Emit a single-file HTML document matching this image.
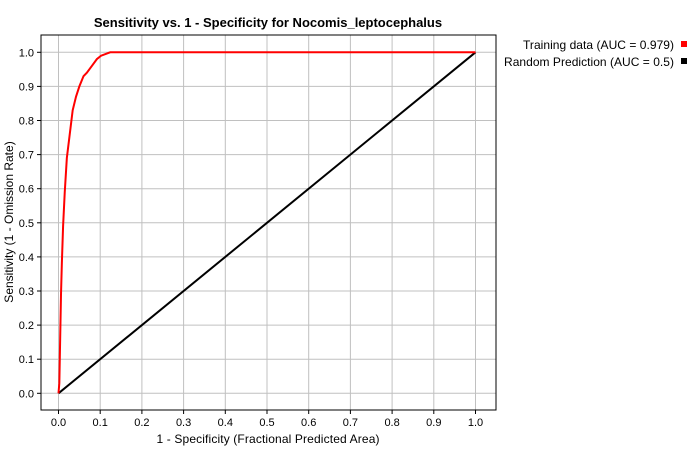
<!DOCTYPE html>
<html><head><meta charset="utf-8"><style>
body{margin:0;background:#fff;font-family:"Liberation Sans",sans-serif}
</style></head><body>
<svg width="700" height="450" xmlns="http://www.w3.org/2000/svg" font-family="Liberation Sans, sans-serif">
<rect width="700" height="450" fill="#fff"/>
<text x="268" y="27" font-size="13" font-weight="bold" text-anchor="middle">Sensitivity vs. 1 - Specificity for Nocomis_leptocephalus</text>
<g id="grid"></g>
<rect x="41" y="35" width="455" height="375" fill="none" stroke="#000"/>
<g id="ticks" font-size="11"></g>
<g id="series"></g>
<text x="268" y="443" font-size="12" text-anchor="middle" textLength="223">1 - Specificity  (Fractional Predicted Area)</text>
<text transform="translate(13,222) rotate(-90)" font-size="12" text-anchor="middle">Sensitivity  (1 - Omission Rate)</text>
<g font-size="12">
<text x="523" y="49" textLength="151">Training data (AUC = 0.979)</text>
<rect x="681" y="41" width="6" height="6" fill="#f00"/>
<text x="504" y="66" textLength="170">Random Prediction (AUC = 0.5)</text>
<rect x="681" y="58" width="6" height="6" fill="#000"/>
</g>
</svg>
<script>
const ticks=[0,0.1,0.2,0.3,0.4,0.5,0.6,0.7,0.8,0.9,1.0];
const tickLabels=["0.0","0.1","0.2","0.3","0.4","0.5","0.6","0.7","0.8","0.9","1.0"];
const trainX=[0,0.002,0.004,0.006,0.008,0.011,0.015,0.02,0.027,0.034,0.042,0.05,0.06,0.068,0.08,0.092,0.102,0.124,1];
const trainY=[0,0.03,0.16,0.29,0.38,0.49,0.59,0.69,0.76,0.83,0.87,0.90,0.93,0.94,0.96,0.98,0.99,1.0,1.0];
const randX=[0,1], randY=[0,1];
const NS="http://www.w3.org/2000/svg";
const sx=v=>58.5+v*417, sy=v=>393.3-v*341;
const grid=document.getElementById('grid'),tk=document.getElementById('ticks'),ser=document.getElementById('series');
function mk(tag,at,p){const e=document.createElementNS(NS,tag);for(const k in at)e.setAttribute(k,at[k]);p.appendChild(e);return e;}
ticks.forEach((t,i)=>{
 let g=mk('line',{x1:sx(t),x2:sx(t),y1:35,y2:410,stroke:'#c0c0c0'},grid);
 
 
 g=mk('line',{x1:41,x2:496,y1:sy(t),y2:sy(t),stroke:'#c0c0c0'},grid);
 
 
 mk('line',{x1:sx(t),x2:sx(t),y1:410,y2:414,stroke:'#000'},tk);
 mk('line',{x1:37,x2:41,y1:sy(t),y2:sy(t),stroke:'#000'},tk);
 let l=mk('text',{x:sx(t),y:426,'text-anchor':'middle'},tk);l.textContent=tickLabels[i];
 
 
 l=mk('text',{x:34,y:sy(t)+4,'text-anchor':'end'},tk);l.textContent=tickLabels[i];
 
 
});
let p=mk('polyline',{points:randX.map((x,i)=>sx(x)+','+sy(randY[i])).join(' '),fill:'none',stroke:'#000','stroke-width':2},ser);


p=mk('polyline',{points:trainX.map((x,i)=>sx(x)+','+sy(trainY[i])).join(' '),fill:'none',stroke:'#f00','stroke-width':2},ser);


</script>
</body></html>
